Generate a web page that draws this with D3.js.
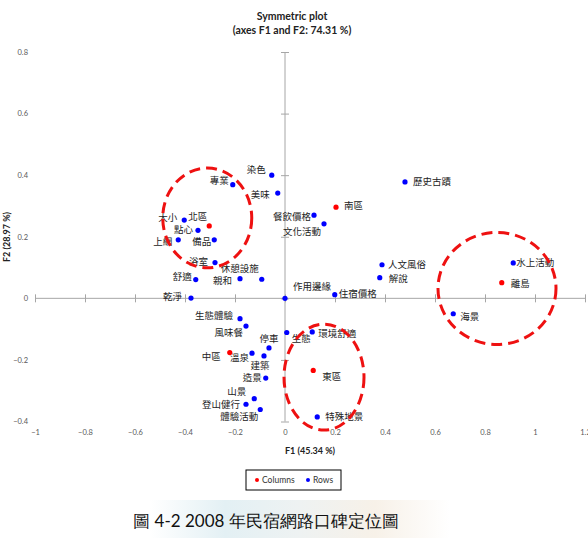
<!DOCTYPE html>
<html>
<head>
<meta charset="utf-8">
<script src="https://cdn.jsdelivr.net/npm/d3@7"></script>
<style>
  body { margin: 0; background: #fff; }
  text { font-family: Lato, "Noto Sans", sans-serif; }
  .lbl { font-family: "Noto Sans CJK TC", "Noto Sans CJK SC", sans-serif; font-size: 9.5px; fill: #222; }
</style>
</head>
<body>
<div id="chart-area"></div>
<script>
// rows (blue)
var rowNames = ["染色", "專業", "美味", "大小", "點心", "上網", "備品", "浴室", "休憩設施", "親和", "舒適", "乾淨",
  "餐飲價格", "文化活動", "歷史古蹟", "人文風俗", "解說", "住宿價格", "作用邊緣", "水上活動", "海景",
  "生態體驗", "風味餐", "停車", "溫泉", "建築", "造景", "山景", "登山健行", "體驗活動", "生態", "環境舒適", "特殊地景"];
var rowF1 = [-0.053, -0.209, -0.029, -0.403, -0.348, -0.427, -0.283, -0.280, -0.093, -0.180, -0.357, -0.376,
  0.116, 0.156, 0.480, 0.388, 0.379, 0.199, 0.000, 0.913, 0.673,
  -0.180, -0.156, -0.064, -0.132, -0.084, -0.077, -0.123, -0.156, -0.099, 0.007, 0.109, 0.129];
var rowF2 = [0.400, 0.369, 0.342, 0.254, 0.221, 0.190, 0.190, 0.116, 0.062, 0.064, 0.061, 0.001,
  0.270, 0.242, 0.378, 0.109, 0.067, 0.012, 0.000, 0.115, -0.050,
  -0.066, -0.090, -0.161, -0.178, -0.187, -0.259, -0.326, -0.344, -0.361, -0.111, -0.109, -0.385];

// columns (red)
var colNames = ["北區", "南區", "離島", "中區", "東區"];
var colF1 = [-0.303, 0.204, 0.867, -0.221, 0.113];
var colF2 = [0.235, 0.296, 0.051, -0.176, -0.234];

var xTicks = [-1, -0.8, -0.6, -0.4, -0.2, 0, 0.2, 0.4, 0.6, 0.8, 1, 1.2];
var yTicks = [-0.4, -0.2, 0, 0.2, 0.4, 0.6, 0.8];

// dashed groupings drawn on the chart: centre f1, f2 and radii in axis units
var ringF1 = [-0.311, 0.848, 0.156];
var ringF2 = [0.261, 0.032, -0.256];
var ringR1 = [0.178, 0.236, 0.160];
var ringR2 = [0.162, 0.182, 0.172];

// label placement: dx, dy, anchor
var place = {
  "染色": [-6, -5, "end"], "專業": [-4, -4, "end"], "美味": [-8, 2, "end"], "大小": [-7, -2, "end"],
  "點心": [-5, -1, "end"], "上網": [-6, 2, "end"], "備品": [-3, 2, "end"], "浴室": [-7, -1, "end"],
  "休憩設施": [-3, -11, "end"], "親和": [-8, 2, "end"], "舒適": [-4, -3, "end"], "乾淨": [-9, -1, "end"],
  "餐飲價格": [-3, 1, "end"], "文化活動": [-3, 8, "end"], "歷史古蹟": [8, 0, "start"], "人文風俗": [6, 0, "start"],
  "解說": [9, 1, "start"], "住宿價格": [4, -1, "start"], "作用邊緣": [8, -12, "start"], "水上活動": [3, 0, "start"],
  "海景": [7, 3, "start"], "生態體驗": [-7, -3, "end"], "風味餐": [-3, 7, "end"], "停車": [0, -9, "middle"],
  "溫泉": [-3, 5, "end"], "建築": [-4, 10, "middle"], "造景": [-4, 0, "end"], "山景": [-8, -7, "end"],
  "登山健行": [-6, 0, "end"], "體驗活動": [-2, 7, "end"], "生態": [5, 6, "start"], "環境舒適": [6, 2, "start"],
  "特殊地景": [8, 0, "start"],
  "北區": [-2, -9, "end"], "南區": [8, -2, "start"], "離島": [9, 1, "start"], "中區": [-9, 4, "end"], "東區": [9, 6, "start"]
};

var W = 588, H = 538;
var x = d3.scaleLinear().domain([-1, 1.2]).range([35, 585]);
var y = d3.scaleLinear().domain([-0.4, 0.8]).range([421.5, 52]);

var svg = d3.select('#chart-area').append('svg')
  .attr('width', W).attr('height', H);
svg.append('rect').attr('width', W).attr('height', H).attr('fill', '#fff');

// title
svg.append('text').attr('x', 292).attr('y', 20).attr('text-anchor', 'middle')
  .attr('font-size', '10.5px').attr('font-weight', 'bold').attr('fill', '#222').text('Symmetric plot');
svg.append('text').attr('x', 292).attr('y', 34).attr('text-anchor', 'middle')
  .attr('font-size', '10.5px').attr('font-weight', 'bold').attr('fill', '#222').text('(axes F1 and F2: 74.31 %)');

// axes through the origin
var axisCol = '#a6a6a6';
var xAxisG = svg.append('g').attr('transform', 'translate(0,' + (y(0) - 4) + ')')
  .call(d3.axisBottom(x).tickValues(xTicks).tickSize(8).tickFormat(''));
xAxisG.select('.domain').remove();
xAxisG.selectAll('line').attr('stroke', axisCol);
svg.append('line').attr('x1', x(-1)).attr('x2', x(1.2)).attr('y1', y(0)).attr('y2', y(0)).attr('stroke', axisCol);

var yAxisG = svg.append('g').attr('transform', 'translate(' + (x(0) + 4) + ',0)')
  .call(d3.axisLeft(y).tickValues(yTicks).tickSize(8).tickFormat(''));
yAxisG.select('.domain').remove();
yAxisG.selectAll('line').attr('stroke', axisCol);
svg.append('line').attr('x1', x(0)).attr('x2', x(0)).attr('y1', y(0.8)).attr('y2', y(-0.4)).attr('stroke', axisCol);

// tick labels at chart edges
var xLab = svg.append('g').attr('transform', 'translate(0,428)')
  .call(d3.axisBottom(x).tickValues(xTicks).tickSize(0).tickPadding(2).tickFormat(d3.format('')));
xLab.select('.domain').remove();
xLab.selectAll('text').attr('font-size', '7.5px').attr('fill', '#595959').attr('font-family', 'Lato, sans-serif');

var yLab = svg.append('g').attr('transform', 'translate(28,0)')
  .call(d3.axisLeft(y).tickValues(yTicks).tickSize(0).tickPadding(0).tickFormat(d3.format('')));
yLab.select('.domain').remove();
yLab.selectAll('text').attr('font-size', '7.5px').attr('fill', '#595959').attr('font-family', 'Lato, sans-serif');

// axis titles
svg.append('text').attr('x', 310).attr('y', 454).attr('text-anchor', 'middle')
  .attr('font-size', '9px').attr('font-weight', 'bold').attr('fill', '#222').text('F1 (45.34 %)');
svg.append('text').attr('transform', 'translate(10,237) rotate(-90)').attr('text-anchor', 'middle')
  .attr('font-size', '9px').attr('font-weight', 'bold').attr('fill', '#222').text('F2 (28.97 %)');

// points
var rows = rowNames.map(function(n, i) { return {name: n, f1: rowF1[i], f2: rowF2[i], c: '#0000ff'}; });
var cols = colNames.map(function(n, i) { return {name: n, f1: colF1[i], f2: colF2[i], c: '#ff0000'}; });
var all = rows.concat(cols);

svg.selectAll('text.lbl').data(all).enter().append('text')
  .attr('class', 'lbl')
  .attr('x', function(d) { return x(d.f1) + place[d.name][0]; })
  .attr('y', function(d) { return y(d.f2) + place[d.name][1]; })
  .attr('dy', '0.35em')
  .attr('text-anchor', function(d) { return place[d.name][2]; })
  .text(function(d) { return d.name; });

svg.selectAll('circle.pt').data(all).enter().append('circle')
  .attr('class', 'pt')
  .attr('cx', function(d) { return x(d.f1); })
  .attr('cy', function(d) { return y(d.f2); })
  .attr('r', 2.6)
  .attr('fill', function(d) { return d.c; });

// dashed rings
var rings = ringF1.map(function(v, i) { return {f1: v, f2: ringF2[i], r1: ringR1[i], r2: ringR2[i]}; });
svg.selectAll('ellipse.ring').data(rings).enter().append('ellipse')
  .attr('class', 'ring')
  .attr('cx', function(d) { return x(d.f1); })
  .attr('cy', function(d) { return y(d.f2); })
  .attr('rx', function(d) { return x(d.r1) - x(0); })
  .attr('ry', function(d) { return y(0) - y(d.r2); })
  .attr('fill', 'none')
  .attr('stroke', '#ee1111')
  .attr('stroke-width', 3)
  .attr('stroke-dasharray', '11,6');

// legend
var lg = svg.append('g').attr('transform', 'translate(246,470)');
lg.append('rect').attr('width', 95).attr('height', 20).attr('fill', '#fff').attr('stroke', '#000').attr('stroke-width', 1);
lg.append('circle').attr('cx', 11).attr('cy', 10).attr('r', 2).attr('fill', '#ff0000');
lg.append('text').attr('x', 16).attr('y', 13).attr('font-size', '8.5px').attr('fill', '#333').text('Columns');
lg.append('circle').attr('cx', 62).attr('cy', 10).attr('r', 2).attr('fill', '#0000ff');
lg.append('text').attr('x', 67).attr('y', 13).attr('font-size', '8.5px').attr('fill', '#333').text('Rows');

// caption with faint backdrop
var grad = svg.append('defs').append('linearGradient').attr('id', 'cap');
grad.append('stop').attr('offset', '0%').attr('stop-color', '#ffffff');
grad.append('stop').attr('offset', '25%').attr('stop-color', '#e3f0f4');
grad.append('stop').attr('offset', '50%').attr('stop-color', '#eef2f2');
grad.append('stop').attr('offset', '75%').attr('stop-color', '#f7f1e8');
grad.append('stop').attr('offset', '100%').attr('stop-color', '#ffffff');
svg.append('rect').attr('x', 150).attr('y', 500).attr('width', 300).attr('height', 38).attr('fill', 'url(#cap)');
svg.append('text').attr('x', 266).attr('y', 527).attr('text-anchor', 'middle')
  .attr('font-family', '"Noto Sans CJK TC", "Liberation Serif", serif')
  .attr('font-size', '17px').attr('fill', '#111')
  .text('圖 4-2 2008 年民宿網路口碑定位圖');
</script>
</body>
</html>
